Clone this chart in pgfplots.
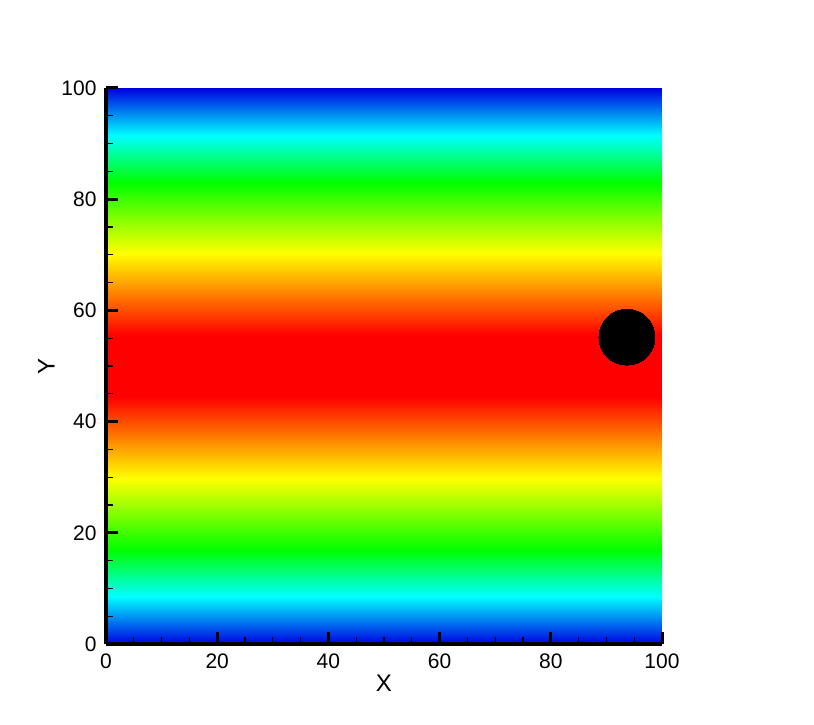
\documentclass[border=0pt]{standalone}
\usepackage{pgfplots}
\pgfplotsset{compat=1.18}
\usepackage{fontspec}
\setmainfont{Liberation Sans}
\pgfplotstableread{
x y d
0 0 0
100 0 0
0 2.5 2.5
100 2.5 2.5
0 5 5
100 5 5
0 7.5 7.5
100 7.5 7.5
0 10 10
100 10 10
0 12.5 12.5
100 12.5 12.5
0 15 15
100 15 15
0 17.5 17.5
100 17.5 17.5
0 20 20
100 20 20
0 22.5 22.5
100 22.5 22.5
0 25 25
100 25 25
0 27.5 27.5
100 27.5 27.5
0 30 30
100 30 30
0 32.5 32.5
100 32.5 32.5
0 35 35
100 35 35
0 37.5 37.5
100 37.5 37.5
0 40 40
100 40 40
0 42.5 42.5
100 42.5 42.5
0 45 45
100 45 45
0 47.5 47.5
100 47.5 47.5
0 50 50
100 50 50
0 52.5 47.5
100 52.5 47.5
0 55 45
100 55 45
0 57.5 42.5
100 57.5 42.5
0 60 40
100 60 40
0 62.5 37.5
100 62.5 37.5
0 65 35
100 65 35
0 67.5 32.5
100 67.5 32.5
0 70 30
100 70 30
0 72.5 27.5
100 72.5 27.5
0 75 25
100 75 25
0 77.5 22.5
100 77.5 22.5
0 80 20
100 80 20
0 82.5 17.5
100 82.5 17.5
0 85 15
100 85 15
0 87.5 12.5
100 87.5 12.5
0 90 10
100 90 10
0 92.5 7.5
100 92.5 7.5
0 95 5
100 95 5
0 97.5 2.5
100 97.5 2.5
0 100 0
100 100 0
}\flowdata
\begin{document}
\begin{tikzpicture}
\useasboundingbox (-106bp,-81bp) rectangle (708bp,644bp);
\begin{axis}[
  scale only axis,
  width=556bp, height=556bp,
  at={(0,0)}, anchor=south west,
  xmin=0, xmax=100, ymin=0, ymax=100,
  axis x line=bottom, axis y line=left,
  axis line style={-, line width=4bp, black},
  axis on top,
  xtick={0,20,...,100}, ytick={0,20,...,100},
  minor tick num=3,
  tick align=inside,
  major tick length=12bp, minor tick length=7bp,
  major tick style={line width=3bp, black},
  minor tick style={line width=1.3bp, black},
  /pgf/number format/assume math mode=true,
  ticklabel style={font=\fontsize{21bp}{25bp}\selectfont},
  xticklabel style={yshift=-6bp},
  yticklabel style={xshift=-6bp},
  label style={font=\fontsize{24bp}{28bp}\selectfont},
  xlabel={X}, ylabel={Y},
  colormap={flow}{rgb255(0pt)=(0,0,225); rgb255(85pt)=(0,255,255); rgb255(170pt)=(0,255,0); rgb255(297pt)=(255,255,0); rgb255(445pt)=(255,0,0); rgb255(500pt)=(255,0,0)},
  point meta min=0, point meta max=50,
  clip=false,
]
\addplot[surf, shader=interp, mesh/cols=2, point meta=\thisrow{d}] table[x=x, y=y] {\flowdata};
\addplot[only marks, mark=*, mark size=28bp, mark options={fill=black, draw=black, line width=0pt}] coordinates {(93.7,55.2)};
\end{axis}
\end{tikzpicture}
\end{document}
